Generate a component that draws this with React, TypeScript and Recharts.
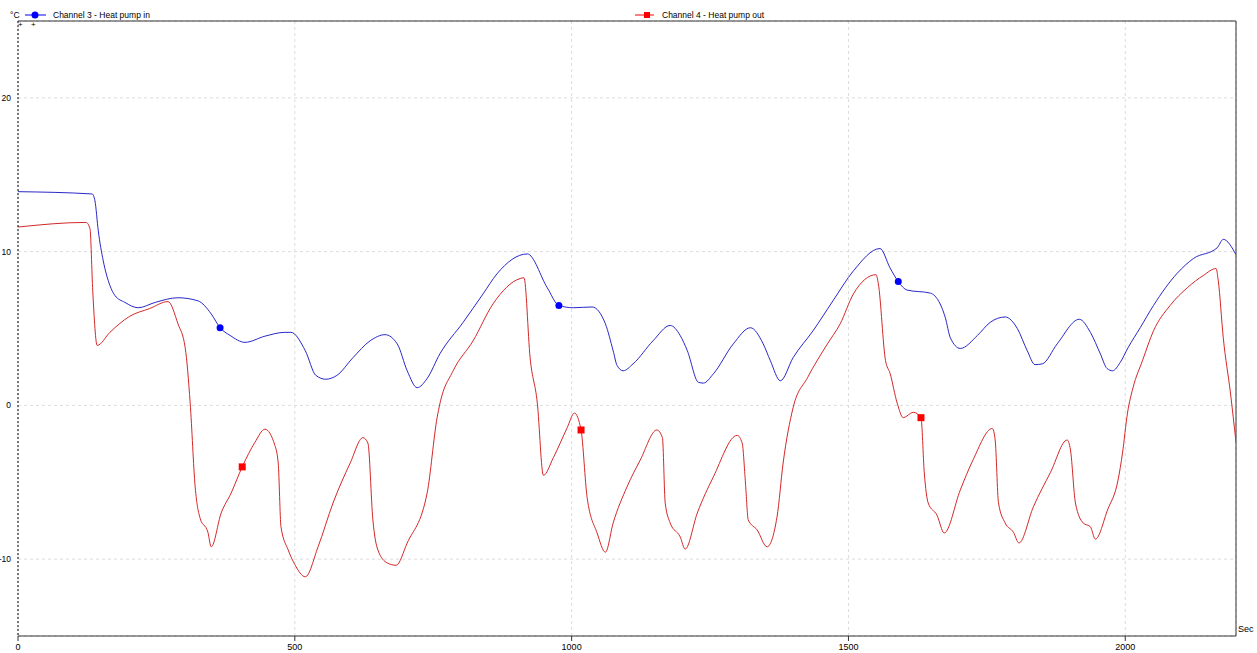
import React from "react";
import {
  LineChart,
  Line,
  XAxis,
  YAxis,
  CartesianGrid,
  ReferenceLine,
} from "recharts";

// Channel 3 - heat pump in (seconds / °C)
const inTime = [
  0, 134, 139, 145, 154, 166, 175, 193, 217, 248, 289, 325, 349, 365, 383, 410, 446, 482, 493, 519,
  538, 556, 576, 605, 636, 663, 685, 703, 721, 739, 762, 804, 840, 865, 920, 956, 977, 1003, 1037,
  1061, 1075, 1082, 1093, 1111, 1147, 1178, 1196, 1209, 1229, 1238, 1256, 1292, 1323, 1346, 1359,
  1377, 1400, 1436, 1472, 1509, 1557, 1575, 1590, 1606, 1648, 1675, 1684, 1702, 1733, 1756, 1783,
  1805, 1823, 1837, 1850, 1877, 1917, 1937, 1955, 1967, 1977, 1991, 2005, 2027, 2051, 2094, 2123,
  2166, 2177, 2200,
];
const inTemp = [
  13.9, 13.75, 13.3, 11.35, 9.4, 7.8, 7.15, 6.7, 6.35, 6.7, 7.0, 6.8, 5.95, 5.05, 4.55, 4.1, 4.5,
  4.75, 4.75, 3.55, 1.95, 1.7, 1.95, 3.1, 4.2, 4.6, 4.0, 2.25, 1.15, 1.75, 3.35, 5.4, 7.25, 8.55,
  9.85, 7.65, 6.5, 6.35, 6.4, 5.3, 3.55, 2.6, 2.25, 2.7, 4.2, 5.2, 4.55, 3.55, 1.5, 1.45, 2.05, 4.0,
  5.05, 4.0, 2.9, 1.6, 3.1, 4.85, 6.8, 8.75, 10.2, 8.95, 8.05, 7.5, 7.3, 5.7, 4.4, 3.7, 4.55, 5.4,
  5.75, 5.0, 3.55, 2.65, 2.7, 4.0, 5.6, 4.75, 3.35, 2.4, 2.25, 2.8, 3.75, 5.05, 6.5, 8.6, 9.55,
  10.25, 10.8, 9.8,
];
const inMarkers = [365, 977, 1590];

// Channel 4 - heat pump out (seconds / °C)
const outTime = [
  0, 123, 130, 135, 143, 166, 202, 238, 271, 289, 302, 311, 320, 329, 343, 349, 367, 385, 405, 428,
  446, 464, 470, 475, 488, 500, 519, 542, 569, 600, 623, 632, 641, 650, 667, 683, 703, 739, 757, 762,
  786, 822, 858, 907, 914, 925, 938, 949, 967, 992, 1005, 1017, 1028, 1046, 1061, 1075, 1100, 1124,
  1154, 1164, 1169, 1178, 1196, 1205, 1227, 1256, 1299, 1308, 1314, 1319, 1335, 1353, 1371, 1382,
  1400, 1426, 1462, 1485, 1509, 1550, 1554, 1567, 1575, 1588, 1599, 1617, 1631, 1637, 1644, 1660,
  1673, 1702, 1725, 1760, 1765, 1771, 1783, 1798, 1808, 1834, 1865, 1895, 1901, 1910, 1924, 1937,
  1946, 1968, 1987, 1995, 2004, 2014, 2031, 2051, 2081, 2112, 2141, 2164, 2168, 2177, 2190, 2200,
];
const outTemp = [
  11.6, 11.9, 11.5, 7.45, 3.9, 4.75, 5.8, 6.3, 6.75, 5.3, 3.75, 0.15, -5.3, -7.35, -8.25, -9.2, -7.0,
  -5.7, -4.0, -2.4, -1.55, -2.6, -3.75, -7.9, -9.4, -10.35, -11.15, -9.2, -6.35, -3.75, -2.1, -2.45,
  -7.45, -9.4, -10.25, -10.4, -8.95, -5.7, -0.8, 0.1, 2.25, 4.2, 6.6, 8.25, 8.3, 3.1, 0.15, -4.55,
  -3.4, -1.45, -0.5, -1.6, -6.0, -8.3, -9.55, -7.65, -5.3, -3.55, -1.6, -2.1, -6.35, -7.65, -8.55,
  -9.35, -7.0, -4.65, -1.95, -2.45, -5.05, -7.45, -8.1, -9.2, -7.25, -3.75, -0.15, 1.8, 4.0, 5.3,
  7.25, 8.5, 7.9, 2.9, 2.1, 0.15, -0.8, -0.45, -0.8, -4.4, -6.35, -7.15, -8.3, -5.5, -3.55, -1.5,
  -2.25, -6.35, -7.65, -8.25, -8.95, -6.6, -4.35, -2.25, -2.9, -6.35, -7.65, -7.9, -8.7, -6.8,
  -4.85, -3.1, -0.5, 1.15, 2.9, 4.85, 6.5, 7.65, 8.45, 8.9, 8.1, 4.4, 0.8, -2.4,
];
const outMarkers = [405, 1017, 1631];

const xTicks = [0, 500, 1000, 1500, 2000];
const yTicks = [-10, 0, 10, 20];

const inData = inTime.map((t, i) => ({ t, v: inTemp[i] }));
const outData = outTime.map((t, i) => ({ t, v: outTemp[i] }));

const FONT = "'Liberation Sans', Arial, sans-serif";

export default function App() {
  const circleDot = (p: any) =>
    inMarkers.includes(p.payload.t) ? (
      <circle key={`c${p.index}`} cx={p.cx} cy={p.cy} r={3.5} fill="#0000ff" />
    ) : (
      <g key={`c${p.index}`} />
    );
  const squareDot = (p: any) =>
    outMarkers.includes(p.payload.t) ? (
      <rect key={`s${p.index}`} x={p.cx - 3.5} y={p.cy - 3.5} width={7} height={7} fill="#ff0000" />
    ) : (
      <g key={`s${p.index}`} />
    );

  return (
    <div style={{ position: "absolute", left: 0, top: 0, width: 1257, height: 653, background: "#fff" }}>
      <LineChart width={1257} height={653} margin={{ top: 21, right: 21, bottom: 0, left: 0 }}>
        <CartesianGrid stroke="#dcdcdc" strokeDasharray="3 3" />
        <XAxis
          type="number"
          dataKey="t"
          domain={[0, 2200]}
          ticks={xTicks}
          allowDataOverflow
          height={17}
          axisLine={{ stroke: "#333" }}
          tickLine={{ stroke: "#333" }}
          tickSize={5}
          tickMargin={3}
          tick={{ fontSize: 9, fill: "#000", fontFamily: FONT }}
        />
        <YAxis
          type="number"
          domain={[-15, 25]}
          ticks={yTicks}
          allowDataOverflow
          width={18}
          axisLine={{ stroke: "#000", strokeDasharray: "2 2" }}
          tickLine={false}
          tickMargin={1}
          tick={{ fontSize: 8.5, fill: "#000", fontFamily: FONT }}
        />
        <ReferenceLine y={25} stroke="#333" />
        <ReferenceLine x={2200} stroke="#333" />
        <Line
          data={inData}
          dataKey="v"
          type="monotone"
          stroke="#2828c8"
          strokeWidth={1}
          dot={circleDot}
          activeDot={false}
          isAnimationActive={false}
        />
        <Line
          data={outData}
          dataKey="v"
          type="monotone"
          stroke="#d42828"
          strokeWidth={1}
          dot={squareDot}
          activeDot={false}
          isAnimationActive={false}
        />
      </LineChart>
      <svg
        width={1257}
        height={653}
        style={{ position: "absolute", left: 0, top: 0, pointerEvents: "none" }}
        fontFamily={FONT}
      >
        <text x={10} y={18} fontSize={8.5} fill="#000">°C</text>
        <line x1={25} y1={15} x2={46} y2={15} stroke="#0000ff" />
        <circle cx={35} cy={15} r={3.5} fill="#0000ff" />
        <text x={53} y={18} fontSize={8.5} fill="#000">Channel 3 - Heat pump in</text>
        <line x1={635} y1={15} x2={654} y2={15} stroke="#ff0000" />
        <rect x={644} y={12} width={6} height={6} fill="#ff0000" />
        <text x={662} y={18} fontSize={8.5} fill="#000">Channel 4 - Heat pump out</text>
        <text x={18} y={27} fontSize={8} fill="#000">+</text>
        <text x={31} y={27} fontSize={8} fill="#000">+</text>
        <text x={1238} y={632} fontSize={9} fill="#000">Sec</text>
      </svg>
    </div>
  );
}
